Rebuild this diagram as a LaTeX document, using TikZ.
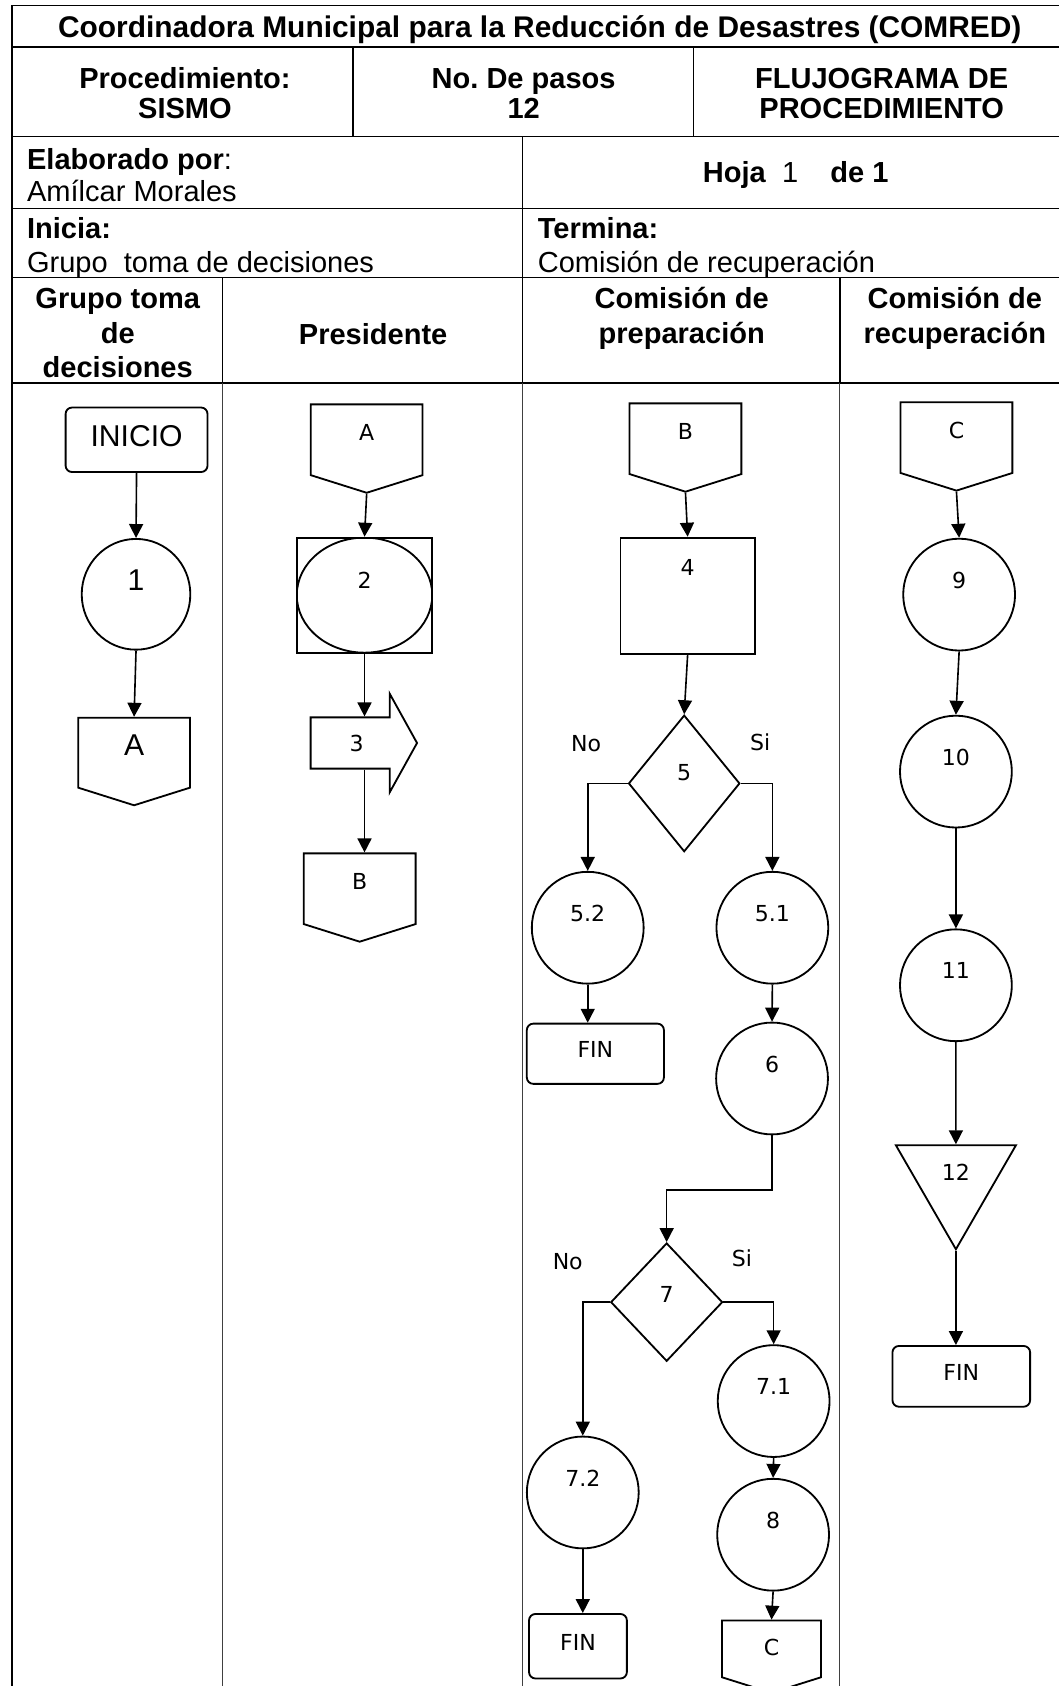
\documentclass[tikz,border=0pt]{standalone}
\usepackage{fontspec}
\setmainfont{Liberation Sans}
\newfontfamily\shapefont{DejaVu Sans}
\usepackage{tikz}
\usetikzlibrary{shapes.geometric, shapes.symbols, shapes.arrows, arrows.meta, positioning, calc}
\frenchspacing
\tikzstyle{arrow} = [line width=1.5pt,-{Triangle[length=13pt,width=13pt]}]
\tikzstyle{line} = [line width=1.5pt]
\tikzstyle{tablerule} = [line width=1.6pt]
\tikzstyle{lanerule} = [line width=1pt, black!75]
\tikzstyle{headtext} = [font=\fontsize{27}{28}\selectfont\bfseries, align=center, inner sep=0pt]
\tikzstyle{lanetext} = [font=\fontsize{27}{32}\selectfont\bfseries, align=center, inner sep=0pt]
\tikzstyle{celltext} = [font=\fontsize{27}{30}\selectfont, inner sep=0pt]
\tikzstyle{basic} = [draw=black, line width=1.7pt, inner sep=0pt, text centered, font=\shapefont\fontsize{20.5}{24}\selectfont, text height=15pt, text depth=0pt]
\tikzstyle{arial} = [font=\fontsize{28}{32}\selectfont, text height=20pt]
\tikzstyle{terminal} = [basic, rectangle, rounded corners=6pt, text depth=8pt]
\tikzstyle{stepcircle} = [basic, ellipse, minimum width=104pt, minimum height=104pt, text depth=27pt]
\tikzstyle{process} = [basic, rectangle]
\tikzstyle{decision} = [basic, diamond]
\tikzstyle{offpage} = [basic, signal, signal to=south, signal from=nowhere, signal pointer angle=145, minimum width=104pt, minimum height=68pt, text depth=14pt]
\tikzstyle{merge} = [basic, regular polygon, regular polygon sides=3, shape border rotate=180, minimum size=129pt, text depth=14pt]
\tikzstyle{bigarrow} = [basic, single arrow, single arrow head extend=22pt, single arrow tip angle=122, minimum height=99pt, text height=30.5pt, text depth=15.5pt]
\tikzstyle{answer} = [font=\shapefont\fontsize{20.5}{24}\selectfont, inner sep=0pt]

\begin{document}
\begin{tikzpicture}[x=1pt, y=-1pt, node distance=0mm]
\useasboundingbox (0,0) rectangle (984,1568);

% table rules
\draw [tablerule] (11,5) -- (990,5);
\draw [tablerule] (11,44) -- (990,44);
\draw [tablerule] (11,127) -- (990,127);
\draw [tablerule] (11,194) -- (990,194);
\draw [tablerule] (11,258) -- (990,258);
\draw [tablerule] (11,356) -- (990,356);
\draw [tablerule] (11,5) -- (11,1568);
\draw [tablerule] (328,44) -- (328,127);
\draw [tablerule] (645,44) -- (645,127);
\draw [tablerule] (486,127) -- (486,356);
\draw [tablerule] (207,258) -- (207,356);
\draw [tablerule] (781,258) -- (781,356);
\draw [lanerule] (207,356) -- (207,1568);
\draw [lanerule] (486,356) -- (486,1568);
\draw [lanerule] (781,356) -- (781,1568);

% header
\node (title) [headtext, font=\fontsize{27.8}{28}\selectfont\bfseries, anchor=base] at(502,35) {Coordinadora Municipal para la Reducción de Desastres (COMRED)};
\node (proc) [headtext] at(172,87) {Procedimiento:\\SISMO};
\node (pasos) [headtext] at(487,87) {No. De pasos\\12};
\node (flujo) [headtext] at(820,87) {FLUJOGRAMA DE\\PROCEDIMIENTO};
\node (elab) [celltext, anchor=base west] at(25,158) {\textbf{Elaborado por}:};
\node (autor) [celltext, anchor=base west] at(25,187) {Amílcar Morales};
\node (hoja) [celltext, anchor=base] at(740,170) {\textbf{Hoja}\ \ 1\ \ \ \ \textbf{de 1}};
\node (inicia) [celltext, anchor=base west] at(25,222) {\textbf{Inicia:}};
\node (iniciaquien) [celltext, anchor=base west] at(25,253) {Grupo\ \ toma de decisiones};
\node (termina) [celltext, anchor=base west] at(500,222) {\textbf{Termina:}};
\node (terminaquien) [celltext, anchor=base west] at(500,253) {Comisión de recuperación};
\node (lane1) [lanetext] at(109.5,310) {Grupo toma\\de\\decisiones};
\node (lane2) [lanetext] at(347,311) {Presidente};
\node (lane3) [lanetext] at(634,296) {Comisión de\\preparación};
\node (lane4) [lanetext] at(888,296) {Comisión de\\recuperación};

% grupo toma de decisiones
\node (inicio) [terminal, arial, text depth=8pt, minimum width=132pt, minimum height=60pt] at(127,409) {INICIO};
\node (p1) [stepcircle, arial, minimum width=101pt, minimum height=103pt] at(126.5,552.7) {1};
\node (conA1) [offpage, arial] at(124.7,700) {A};
\draw [arrow] (inicio.south) -- (p1.north);
\draw [arrow] (p1.south) -- (conA1.north);

% presidente
\node (conA2) [offpage] at(341,409) {A};
\node (box2) [process, minimum width=126pt, minimum height=107pt, text depth=27pt, path picture={\draw [line width=1.7pt] (path picture bounding box.center) ellipse [x radius=63pt, y radius=53.5pt];}] at(339,553.5) {2};
\node (arr3) [bigarrow, anchor=tail] at(288,691) {3};
\node (conB2) [offpage] at(334.5,826.5) {B};
\draw [arrow] (conA2.south) -- (box2.north);
\draw [arrow] (box2.south) -- (box2.south |- arr3.north);
\draw [arrow] (box2.south |- arr3.south) -- (box2.south |- conB2.north);

% comision de preparacion
\node (conB3) [offpage] at(637.5,408) {B};
\node (box4) [process, minimum width=125pt, minimum height=108pt, text depth=53pt] at(639.5,554) {4};
\node (dia5) [decision, minimum width=103.5pt, minimum height=127pt, text depth=20pt] at(636.3,728.6) {5};
\node (no5) [answer] at(545,692) {No};
\node (si5) [answer] at(707,690) {Si};
\node (p52) [stepcircle] at(546.6,862.8) {5.2};
\node (p51) [stepcircle] at(718.3,862.8) {5.1};
\node (fin52) [terminal, minimum width=127.5pt, minimum height=56pt] at(553.7,980) {FIN};
\node (p6) [stepcircle] at(718,1003) {6};
\node (dia7) [decision, minimum width=104pt, minimum height=110pt, text depth=14pt] at(620,1211) {7};
\node (no7) [answer] at(528,1173) {No};
\node (si7) [answer] at(690,1170) {Si};
\node (p71) [stepcircle] at(719.5,1303) {7.1};
\node (p8) [stepcircle] at(719,1427.3) {8};
\node (conC3) [offpage, minimum width=92pt, minimum height=55pt, text depth=3pt] at(717.5,1533.5) {C};
\node (p72) [stepcircle] at(542,1388) {7.2};
\node (fin72) [terminal, minimum width=91pt, minimum height=60pt] at(537.5,1531) {FIN};
\draw [arrow] (conB3.south) -- (box4.north);
\draw [arrow] (box4.south) -- (dia5.north);
\draw [arrow] (dia5.west) -| (p52.north);
\draw [arrow] (dia5.east) -| (p51.north);
\draw [arrow] (p52.south) -- (p52.south |- fin52.north);
\draw [arrow] (p51.south) -- (p6.north);
\draw [arrow] (p6.south) -- ++(0,51) -| (dia7.north);
\draw [arrow] (dia7.west) -| (p72.north);
\draw [arrow] (dia7.east) -| (p71.north);
\draw [arrow] (p71.south) -- (p8.north);
\draw [arrow] (p8.south) -- (conC3.north);
\draw [arrow] (p72.south) -- (p72.south |- fin72.north);

% comision de recuperacion
\node (conC4) [offpage] at(889.5,407) {C};
\node (p9) [stepcircle] at(892,553) {9};
\node (p10) [stepcircle] at(889,717.6) {10};
\node (p11) [stepcircle] at(889,916.3) {11};
\node (tri12) [merge] at(889,1097.3) {12};
\node (fin4) [terminal, minimum width=128pt, minimum height=56.5pt] at(894,1280) {FIN};
\draw [arrow] (conC4.south) -- (p9.north);
\draw [arrow] (p9.south) -- (p10.north);
\draw [arrow] (p10.south) -- (p11.north);
\draw [arrow] (p11.south) -- (tri12.north);
\draw [arrow] (tri12.south) -- (tri12.south |- fin4.north);

\end{tikzpicture}
\end{document}
